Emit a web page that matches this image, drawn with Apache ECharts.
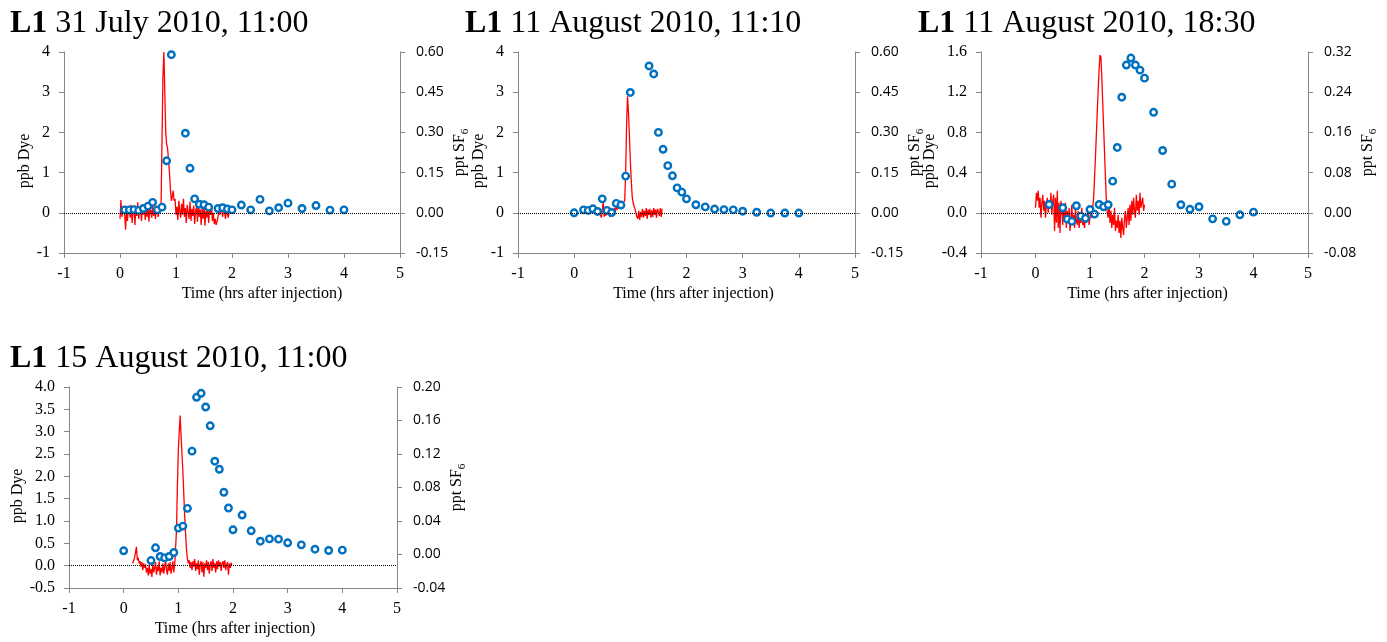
<!DOCTYPE html>
<html><head><meta charset="utf-8">
<script src="https://cdn.jsdelivr.net/npm/echarts@6/dist/echarts.min.js"></script>
<style>html,body{margin:0;padding:0;background:#fff}#c{width:1387px;height:642px}</style>
</head><body><div id="c"></div>
<script>
// ---------------- DATA ----------------
const panelLabel = 'L1';
const panelTitles = ['31 July 2010, 11:00', '11 August 2010, 11:10', '11 August 2010, 18:30', '15 August 2010, 11:00'];
const xAxisName = 'Time (hrs after injection)';
const dyeAxisName = 'ppb Dye';
const xRange = [-1, 5, 1];
const dyeRange = [[-1, 4, 1], [-1, 4, 1], [-0.4, 1.6, 0.4], [-0.5, 4.0, 0.5]];
const sf6Range = [[-0.15, 0.60, 0.15], [-0.15, 0.60, 0.15], [-0.08, 0.32, 0.08], [-0.04, 0.20, 0.04]];
const dyeDecimals = [0, 0, 1, 1];
const sf6Decimals = [2, 2, 2, 2];

// SF6 samples (hours after injection, ppt)
const sf6Time1 = [0.083,0.167,0.25,0.333,0.417,0.5,0.583,0.667,0.75,0.833,0.917,1.167,1.25,1.333,1.417,1.5,1.583,1.75,1.833,1.917,2.0,2.167,2.333,2.5,2.667,2.833,3.0,3.25,3.5,3.75,4.0];
const sf6Val1  = [0.011,0.011,0.012,0.009,0.016,0.025,0.039,0.011,0.021,0.194,0.590,0.297,0.166,0.052,0.032,0.030,0.021,0.016,0.019,0.014,0.011,0.029,0.011,0.050,0.007,0.019,0.036,0.016,0.027,0.010,0.011];
const sf6Time2 = [0,0.167,0.25,0.333,0.417,0.5,0.583,0.667,0.75,0.833,0.917,1.0,1.333,1.417,1.5,1.583,1.667,1.75,1.833,1.917,2.0,2.167,2.333,2.5,2.667,2.833,3.0,3.25,3.5,3.75,4.0];
const sf6Val2  = [0.000,0.011,0.009,0.015,0.005,0.052,0.009,0.001,0.035,0.029,0.137,0.449,0.548,0.518,0.300,0.237,0.176,0.138,0.093,0.077,0.052,0.030,0.022,0.014,0.012,0.011,0.006,0.002,-0.001,-0.001,-0.001];
const sf6Time3 = [0.25,0.5,0.583,0.667,0.75,0.833,0.917,1.0,1.083,1.167,1.25,1.333,1.417,1.5,1.583,1.667,1.75,1.833,1.917,2.0,2.167,2.333,2.5,2.667,2.833,3.0,3.25,3.5,3.75,4.0];
const sf6Val3  = [0.0165,0.010,-0.0126,-0.017,0.014,-0.0066,-0.011,0.0066,-0.0026,0.0165,0.012,0.016,0.063,0.130,0.230,0.294,0.308,0.294,0.284,0.268,0.200,0.124,0.057,0.016,0.007,0.012,-0.012,-0.017,-0.004,0.0013];
const sf6Time4 = [0,0.5,0.583,0.667,0.75,0.833,0.917,1.0,1.083,1.167,1.25,1.333,1.417,1.5,1.583,1.667,1.75,1.833,1.917,2.0,2.167,2.333,2.5,2.667,2.833,3.0,3.25,3.5,3.75,4.0];
const sf6Val4  = [0.0044,-0.0072,0.0080,-0.0024,-0.0040,-0.0024,0.0024,0.0315,0.0339,0.0551,0.1234,0.1877,0.1925,0.1761,0.1537,0.1114,0.1018,0.0743,0.0555,0.0295,0.0471,0.0283,0.0159,0.0187,0.0183,0.0140,0.0115,0.0063,0.0048,0.0052];

// Dye fluorometer readings (ppb), logged once per minute from the start minute
const dyeLogIntervalMin = 1;
const dyeStartMin = [0, 28, 0, 10];
const dye1 = [
 -0.15,0.32,-0.10,0.05,0.12,-0.05,-0.42,0.10,-0.20,0.15,
 0.08,-0.12,0.20,-0.25,0.05,0.18,-0.30,0.12,-0.08,0.26,
 -0.15,0.02,0.15,-0.20,0.10,-0.05,0.22,-0.18,0.08,-0.10,
 0.18,-0.22,0.12,0.05,-0.12,0.20,-0.08,0.10,-0.15,0.15,
 0.05,-0.10,0.12,0.08,
 0.20,1.80,3.40,4.00,3.00,2.00,1.70,1.60,1.30,1.00,0.60,0.30,0.40,0.55,0.30,0.35,-0.05,
 0.15,-0.18,0.30,0.05,-0.12,0.22,-0.05,0.35,-0.10,0.12,
 -0.25,0.20,0.02,-0.15,0.28,-0.20,0.10,-0.08,0.18,-0.28,
 0.05,0.15,-0.22,0.25,-0.10,0.08,-0.30,0.12,-0.15,0.20,
 -0.32,0.05,-0.12,0.15,-0.25,0.10,-0.05,0.18,-0.20,0.00,
 -0.28,-0.15,-0.30,-0.22,-0.10,0.12,-0.05,0.15,0.05,-0.10,
 0.10,0.02,-0.15,0.08,0.12,-0.12,0.05
];
const dye2 = [
 -0.05,-0.12,0.05,0.28,-0.10,0.08,-0.08,0.12,-0.05,0.05,
 -0.10,0.10,-0.02,0.08,-0.06,0.12,0.03,0.15,0.08,0.18,
 0.12,0.20,0.15,0.22,0.22,0.25,0.30,1.00,2.20,2.90,
 2.50,1.90,1.30,0.80,0.40,0.25,0.15,0.10,0.00,-0.10,
 -0.15,
 0.05,-0.18,0.02,-0.10,0.10,-0.12,0.05,-0.08,0.12,-0.15,
 0.08,-0.05,0.10,-0.12,0.06,-0.10,0.12,-0.05,0.08,-0.12,
 0.10,0.02,-0.08,0.12,-0.10,0.10
];
const dye3 = [
 0.05,0.20,0.12,0.22,0.05,0.15,-0.05,0.10,0.18,0.02,
 0.12,-0.05,0.08,0.15,0.00,0.10,0.05,0.20,-0.02,0.12,
 0.18,-0.18,0.15,-0.10,0.22,-0.15,0.10,-0.20,0.12,0.05,
 -0.12,0.08,-0.05,0.10,-0.15,0.02,-0.10,0.05,-0.18,-0.05,
 0.08,-0.12,-0.02,-0.15,0.05,-0.08,-0.12,0.02,-0.15,-0.05,
 -0.10,0.05,-0.12,-0.08,-0.15,0.00,-0.10,-0.05,0.03,-0.12,
 -0.05,0.02,-0.05,
 -0.05,0.15,0.35,0.55,0.78,1.00,1.22,1.42,1.57,1.55,1.35,1.10,0.85,0.60,0.35,0.12,0.00,-0.05,
 0.08,-0.10,0.02,-0.15,-0.02,-0.12,0.05,-0.18,-0.08,-0.15,
 -0.02,-0.20,-0.08,-0.25,-0.05,-0.15,-0.22,-0.05,0.02,-0.15,
 -0.05,0.05,-0.12,0.08,-0.08,0.12,-0.02,0.15,0.02,-0.05,
 0.18,0.02,0.12,-0.02,0.20,0.05,0.10,0.15,0.02,0.08
];
const dye4 = [
 0.05,0.12,0.18,0.22,0.42,0.12,0.18,0.05,0.10,-0.02,
 0.08,-0.10,0.05,-0.05,0.03,-0.15,-0.05,-0.22,0.02,-0.18,
 -0.08,-0.25,0.05,-0.15,-0.05,0.08,-0.20,-0.02,-0.12,0.10,
 -0.22,-0.05,-0.15,0.05,-0.18,-0.02,0.12,-0.10,-0.20,0.05,
 -0.12,0.08,-0.18,-0.05,0.10,-0.15,0.02,-0.02,
 0.80,1.80,2.60,3.00,3.36,2.90,2.50,2.10,1.60,1.10,0.70,0.35,0.15,0.05,
 0.12,-0.05,0.08,-0.10,0.10,-0.02,0.15,-0.12,0.05,-0.08,
 0.12,-0.20,0.02,0.10,-0.15,0.08,-0.25,0.05,-0.05,0.12,
 -0.10,0.08,-0.18,0.02,0.10,-0.12,0.15,-0.05,0.05,-0.15,
 0.10,-0.08,0.12,-0.02,0.08,-0.12,0.05,0.10,-0.05,0.12,
 -0.10,0.02,0.08,-0.20,0.05,-0.05,0.06,0.02
];
const dyeSets = [dye1, dye2, dye3, dye4];
const sf6Times = [sf6Time1, sf6Time2, sf6Time3, sf6Time4];
const sf6Vals = [sf6Val1, sf6Val2, sf6Val3, sf6Val4];

// ---------------- LAYOUT / STYLE ----------------
const layout = [
  {left: 64,  top: 52,  width: 336, height: 201, tx: 10,  ty: 8,   lGap: 29, rGap: 47, xShift: 30},
  {left: 518, top: 52,  width: 337, height: 201, tx: 465, ty: 8,   lGap: 30, rGap: 48, xShift: 7},
  {left: 981, top: 52,  width: 327, height: 201, tx: 918, ty: 8,   lGap: 38, rGap: 48, xShift: 3},
  {left: 69,  top: 387, width: 328, height: 201, tx: 10,  ty: 343, lGap: 34, rGap: 47, xShift: 2}
];
const SERIF = 'Liberation Serif';
const SANS = 'Open Sans';
const AXIS_COLOR = '#868686';

const option = {animation: false, backgroundColor: '#fff', title: [], grid: [], xAxis: [], yAxis: [], series: []};

layout.forEach((L, i) => {
  option.title.push({
    text: '{b|' + panelLabel + '}{n| ' + panelTitles[i] + '}',
    left: L.tx, top: L.ty, padding: 0,
    textStyle: {fontFamily: SERIF, fontSize: 32, fontWeight: 'normal', color: '#000',
      rich: {b: {fontFamily: SERIF, fontSize: 32, fontWeight: 'bold', color: '#000'},
             n: {fontFamily: SERIF, fontSize: 32, fontWeight: 'normal', color: '#000'}}}
  });
  option.grid.push({left: L.left, top: L.top, width: L.width, height: L.height, containLabel: false});
  const axLine = {show: true, onZero: false, lineStyle: {color: AXIS_COLOR, width: 1}};
  const axTick = {show: true, inside: false, length: 5, lineStyle: {color: AXIS_COLOR}};
  option.xAxis.push({
    type: 'value', gridIndex: i, min: xRange[0], max: xRange[1], interval: xRange[2],
    axisLine: axLine, axisTick: axTick, splitLine: {show: false},
    axisLabel: {fontFamily: SERIF, fontSize: 16, color: '#000', margin: 13},
    name: xAxisName, nameLocation: 'middle', nameGap: 33,
    nameTextStyle: {fontFamily: SERIF, fontSize: 16, color: '#000', padding: [0, 0, 0, L.xShift * 2]}
  });
  const dr = dyeRange[i], sr = sf6Range[i];
  option.yAxis.push({
    type: 'value', gridIndex: i, position: 'left', min: dr[0], max: dr[1], interval: dr[2],
    axisLine: axLine, axisTick: axTick, splitLine: {show: false},
    axisLabel: {fontFamily: SERIF, fontSize: 16, color: '#000', margin: 14,
      formatter: v => v.toFixed(dyeDecimals[i])},
    name: dyeAxisName, nameLocation: 'middle', nameRotate: 90, nameGap: L.lGap,
    nameTextStyle: {fontFamily: SERIF, fontSize: 16, color: '#000', padding: [0, 17, 0, 0]}
  });
  option.yAxis.push({
    type: 'value', gridIndex: i, position: 'right', min: sr[0], max: sr[1], interval: sr[2],
    alignTicks: false,
    axisLine: axLine, axisTick: axTick, splitLine: {show: false},
    axisLabel: {fontFamily: SANS, fontSize: 14, color: '#000', margin: 16,
      formatter: v => v.toFixed(sf6Decimals[i])},
    name: '{a|ppt SF}{s|6}', nameLocation: 'middle', nameRotate: 90, nameGap: L.rGap,
    nameTextStyle: {color: '#000',
      rich: {a: {fontFamily: SERIF, fontSize: 16, lineHeight: 16, verticalAlign: 'top', color: '#000'},
             s: {fontFamily: SERIF, fontSize: 11, lineHeight: 11, verticalAlign: 'top', padding: [8, 0, 0, 0], color: '#000'}}}
  });
  const dyeData = dyeSets[i].map((v, k) => [(dyeStartMin[i] + k * dyeLogIntervalMin) / 60, v]);
  option.series.push({
    type: 'line', xAxisIndex: i, yAxisIndex: 2 * i, data: dyeData,
    symbol: 'none', showSymbol: false, z: 2,
    lineStyle: {color: '#FF0000', width: 1.3},
    markLine: {silent: true, symbol: ['none', 'none'], label: {show: false},
      lineStyle: {type: 'dotted', color: '#000', width: 1}, data: [{yAxis: 0}]}
  });
  option.series.push({
    type: 'scatter', xAxisIndex: i, yAxisIndex: 2 * i + 1, z: 3,
    data: sf6Times[i].map((t, k) => [t, sf6Vals[i][k]]),
    symbol: 'circle', symbolSize: 6.5,
    itemStyle: {color: '#fff', borderColor: '#0070C0', borderWidth: 2.4, opacity: 1}
  });
});

const chart = echarts.init(document.getElementById('c'), null, {renderer: 'canvas'});
chart.setOption(option);
</script>
</body></html>
